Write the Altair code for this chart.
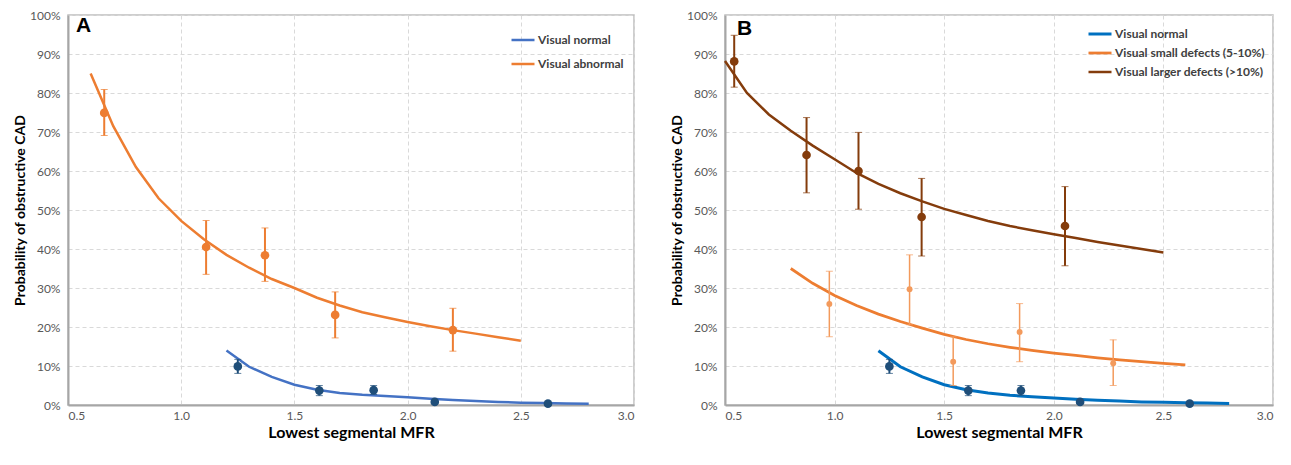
import altair as alt
import pandas as pd

# ---------------- Panel A data ----------------
a_norm_curve_x = [1.2, 1.3, 1.4, 1.5, 1.6, 1.7, 1.8, 1.9, 2.0, 2.1, 2.2, 2.3, 2.4, 2.5, 2.6, 2.7, 2.8]
a_norm_curve_y = [14.0, 9.8, 7.2, 5.2, 3.9, 3.1, 2.6, 2.3, 2.0, 1.6, 1.3, 1.0, 0.8, 0.6, 0.5, 0.4, 0.3]
a_abn_curve_x = [0.6, 0.7, 0.8, 0.9, 1.0, 1.1, 1.2, 1.3, 1.4, 1.5, 1.6, 1.7, 1.8, 1.9, 2.0, 2.1, 2.2, 2.3, 2.4, 2.5]
a_abn_curve_y = [85.0, 71.5, 61.0, 53.0, 47.2, 42.5, 38.5, 35.2, 32.3, 30.0, 27.5, 25.5, 23.8, 22.5, 21.3, 20.2, 19.2, 18.3, 17.4, 16.5]

a_norm_pt_x = [1.25, 1.61, 1.85, 2.12, 2.62]
a_norm_pt_y = [9.9, 3.7, 3.8, 0.8, 0.35]
a_norm_pt_lo = [8.1, 2.4, 2.7, 0.8, 0.35]
a_norm_pt_hi = [11.7, 5.0, 5.0, 0.8, 0.35]

a_abn_pt_x = [0.66, 1.11, 1.37, 1.68, 2.2]
a_abn_pt_y = [74.9, 40.5, 38.4, 23.1, 19.2]
a_abn_pt_lo = [69.1, 33.5, 31.7, 17.2, 13.8]
a_abn_pt_hi = [80.9, 47.3, 45.4, 29.0, 24.8]

# ---------------- Panel B data ----------------
b_norm_curve_x = a_norm_curve_x
b_norm_curve_y = [13.9, 9.8, 7.2, 5.2, 3.9, 3.1, 2.5, 2.1, 1.8, 1.5, 1.2, 1.0, 0.8, 0.7, 0.6, 0.5, 0.4]
b_small_curve_x = [0.8, 0.9, 1.0, 1.1, 1.2, 1.3, 1.4, 1.5, 1.6, 1.7, 1.8, 1.9, 2.0, 2.1, 2.2, 2.3, 2.4, 2.5, 2.6]
b_small_curve_y = [35.0, 31.2, 28.1, 25.5, 23.3, 21.4, 19.7, 18.1, 16.8, 15.7, 14.8, 14.0, 13.3, 12.7, 12.1, 11.6, 11.1, 10.7, 10.3]
b_large_curve_x = [0.5, 0.6, 0.7, 0.8, 0.9, 1.0, 1.1, 1.2, 1.3, 1.4, 1.5, 1.6, 1.7, 1.8, 1.9, 2.0, 2.1, 2.2, 2.3, 2.4, 2.5]
b_large_curve_y = [88.2, 80.0, 74.5, 70.3, 66.5, 63.0, 59.5, 56.7, 54.3, 52.2, 50.3, 48.7, 47.2, 45.9, 44.8, 43.8, 42.8, 41.8, 40.9, 40.0, 39.1]

b_norm_pt_x = [1.25, 1.61, 1.85, 2.12, 2.62]
b_norm_pt_y = [9.9, 3.7, 3.7, 0.8, 0.35]
b_norm_pt_lo = [8.1, 2.4, 2.5, 0.8, 0.35]
b_norm_pt_hi = [11.7, 5.0, 5.0, 0.8, 0.35]

b_small_pt_x = [0.976, 1.342, 1.541, 1.844, 2.271]
b_small_pt_y = [25.9, 29.7, 11.1, 18.7, 10.7]
b_small_pt_lo = [17.5, 20.6, 5.0, 11.1, 5.0]
b_small_pt_hi = [34.3, 38.5, 17.5, 26.0, 16.7]

b_large_pt_x = [0.542, 0.872, 1.109, 1.397, 2.051]
b_large_pt_y = [88.1, 64.1, 60.0, 48.2, 45.9]
b_large_pt_lo = [81.5, 54.4, 50.2, 38.2, 35.7]
b_large_pt_hi = [94.8, 73.7, 69.9, 58.1, 56.0]

x_ticks = [0.5, 1.0, 1.5, 2.0, 2.5, 3.0]
y_ticks = [0, 0.1, 0.2, 0.3, 0.4, 0.5, 0.6, 0.7, 0.8, 0.9, 1.0]

FONT = "Lato"
BLUE_A = "#4472C4"
BLUE_B = "#0070C0"
ORANGE = "#ED7D31"
ORANGE_LIGHT = "#F39A5C"
BROWN = "#843C0C"
NAVY = "#1F4E79"


def curve_df(xs, ys, name):
    return pd.DataFrame({"x": xs, "y": [v / 100 for v in ys], "series": name})


def pts_df(xs, ys, lo, hi, color, size, width):
    return pd.DataFrame({
        "x": xs, "y": [v / 100 for v in ys],
        "lo": [v / 100 for v in lo], "hi": [v / 100 for v in hi],
        "color": color, "size": size, "width": width,
    })


xscale = alt.Scale(domain=[0.5, 3.0], nice=False, zero=False)
yscale = alt.Scale(domain=[0, 1], nice=False)

xaxis = alt.Axis(values=x_ticks, tickCount=12, format=".1f", title="Lowest segmental MFR",
                 titleFontSize=16, titleFontWeight="bold", titleColor="#000000",
                 titlePadding=3, labelPadding=5, labelOverlap=False)
yaxis = alt.Axis(values=y_ticks, tickCount=22, format=".0%", title="Probability of obstructive CAD",
                 titleFontSize=14, titleFontWeight="bold", titleColor="#000000",
                 titlePadding=2, labelPadding=8, labelOverlap=False)


def X(field):
    return alt.X(field, scale=xscale, axis=xaxis)


def Y(field):
    return alt.Y(field, scale=yscale, axis=yaxis)


def panel(curves, names, colors, pts_list, label, width, height, legend_x, legend_y,
          row_pad, stroke_widths, lab_pos):
    cdf = pd.concat(curves, ignore_index=True)
    lines = alt.Chart(cdf).mark_line().encode(
        x=X("x:Q"),
        y=Y("y:Q"),
        color=alt.Color("series:N", sort=names,
                        scale=alt.Scale(domain=names, range=colors),
                        legend=alt.Legend(title=None, orient="none",
                                          legendX=legend_x, legendY=legend_y,
                                          symbolType="stroke", symbolSize=529,
                                          symbolStrokeWidth=2.5,
                                          labelFontSize=12, labelFontWeight="bold",
                                          labelColor="#404040", labelFont=FONT,
                                          labelLimit=0,
                                          rowPadding=row_pad, labelOffset=2)),
        strokeWidth=alt.StrokeWidth("series:N", scale=alt.Scale(domain=names, range=stroke_widths), legend=None),
        detail="series:N",
    )
    layers = [lines]
    for p in pts_list:
        base = alt.Chart(p)
        rule = base.mark_rule().encode(
            x=X("x:Q"), y=Y("lo:Q"), y2="hi:Q",
            color=alt.Color("color:N", scale=None),
            strokeWidth=alt.StrokeWidth("width:Q", scale=None),
        )
        cap_lo = base.mark_tick(orient="horizontal", size=7).encode(
            x=X("x:Q"), y=Y("lo:Q"),
            color=alt.Color("color:N", scale=None),
            strokeWidth=alt.StrokeWidth("width:Q", scale=None))
        cap_hi = base.mark_tick(orient="horizontal", size=7).encode(
            x=X("x:Q"), y=Y("hi:Q"),
            color=alt.Color("color:N", scale=None),
            strokeWidth=alt.StrokeWidth("width:Q", scale=None))
        dots = base.mark_circle(opacity=1).encode(
            x=X("x:Q"), y=Y("y:Q"),
            color=alt.Color("color:N", scale=None),
            size=alt.Size("size:Q", scale=None))
        layers += [rule, cap_lo, cap_hi, dots]
    lab = alt.Chart(pd.DataFrame({"t": [label]})).mark_text(
        fontSize=21, fontWeight="bold", font="Arial", align="left", baseline="middle", color="#000000"
    ).encode(text="t:N", x=alt.value(lab_pos[0]), y=alt.value(lab_pos[1]))
    layers.append(lab)
    return alt.layer(*layers).resolve_scale(color="independent", strokeWidth="independent").properties(
        width=width, height=height)


panelA = panel(
    [curve_df(a_norm_curve_x, a_norm_curve_y, "Visual normal"),
     curve_df(a_abn_curve_x, a_abn_curve_y, "Visual abnormal")],
    ["Visual normal", "Visual abnormal"], [BLUE_A, ORANGE],
    [pts_df(a_abn_pt_x, a_abn_pt_y, a_abn_pt_lo, a_abn_pt_hi, ORANGE, 75, 2),
     pts_df(a_norm_pt_x, a_norm_pt_y, a_norm_pt_lo, a_norm_pt_hi, NAVY, 75, 2)],
    "A", 566, 390, 442, 12, 5, [2.5, 2.5], (8, 11))

panelB = panel(
    [curve_df(b_norm_curve_x, b_norm_curve_y, "Visual normal"),
     curve_df(b_small_curve_x, b_small_curve_y, "Visual small defects (5-10%)"),
     curve_df(b_large_curve_x, b_large_curve_y, "Visual larger defects (>10%)")],
    ["Visual normal", "Visual small defects (5-10%)", "Visual larger defects (>10%)"],
    [BLUE_B, ORANGE, BROWN],
    [pts_df(b_large_pt_x, b_large_pt_y, b_large_pt_lo, b_large_pt_hi, BROWN, 75, 2),
     pts_df(b_small_pt_x, b_small_pt_y, b_small_pt_lo, b_small_pt_hi, ORANGE_LIGHT, 35, 1.5),
     pts_df(b_norm_pt_x, b_norm_pt_y, b_norm_pt_lo, b_norm_pt_hi, NAVY, 75, 2)],
    "B", 548, 390, 362, 6, -3.5, [3, 2.5, 2.5], (12, 14))

chart = alt.hconcat(panelA, panelB, spacing=34).properties(
    padding={"left": 4, "top": 0, "right": 0, "bottom": 0}
).configure(
    font=FONT,
).configure_axis(
    labelFont=FONT, titleFont=FONT, labelFontSize=12, labelColor="#595959",
    gridColor="#d9d9d9", gridDash=[4, 3], gridWidth=1,
    domainColor="#a6a6a6", domainWidth=2, ticks=False,
).configure_view(
    stroke="#bfbfbf", strokeWidth=1.5,
).configure_legend(
    padding=0,
)

chart.save("out.html", embed_options={"renderer": "svg", "actions": False})
